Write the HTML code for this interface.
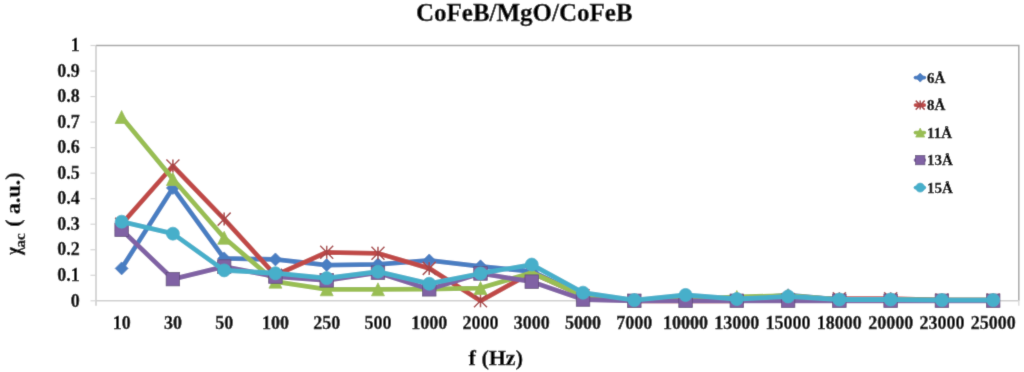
<!DOCTYPE html>
<html><head><meta charset="utf-8"><style>
html,body{margin:0;padding:0;background:#fff;width:1024px;height:372px;overflow:hidden}
svg{display:block}

text{font-family:"Liberation Serif",serif;font-weight:bold;fill:#000;stroke:#000;stroke-width:0.35px}
</style></head><body><div id="w">
<svg width="1024" height="372" viewBox="0 0 1024 372"><defs><filter id="bl" x="0" y="0" width="1024" height="372" filterUnits="userSpaceOnUse"><feConvolveMatrix order="3" kernelMatrix="0.01134 0.08382 0.01134 0.08382 0.61935 0.08382 0.01134 0.08382 0.01134" edgeMode="duplicate" preserveAlpha="true"/></filter></defs><g filter="url(#bl)"><rect x="0" y="0" width="1024" height="372" fill="#fff"/>
<text x="524.3" y="20.6" font-size="25" text-anchor="middle">CoFeB/MgO/CoFeB</text>
<path d="M96.00,45.5 H1018.80 V300.80" stroke="#a8a8a8" stroke-width="1.5" fill="none"/>
<path d="M96.00,45.5 V305.80" stroke="#cacaca" stroke-width="1.5" fill="none"/>
<path d="M96.00,300.80 H1018.80" stroke="#d0d0d0" stroke-width="1.5" fill="none"/>
<path d="M1018.80,300.80 V305.80" stroke="#dcdcdc" stroke-width="1.5" fill="none"/>
<path d="M90.5,300.80 H96.00" stroke="#d6d6d6" stroke-width="1.2"/>
<text x="79.8" y="306.50" font-size="18" text-anchor="end">0</text>
<path d="M90.5,275.27 H96.00" stroke="#d6d6d6" stroke-width="1.2"/>
<text x="79.8" y="280.97" font-size="18" text-anchor="end">0.1</text>
<path d="M90.5,249.74 H96.00" stroke="#d6d6d6" stroke-width="1.2"/>
<text x="79.8" y="255.44" font-size="18" text-anchor="end">0.2</text>
<path d="M90.5,224.21 H96.00" stroke="#d6d6d6" stroke-width="1.2"/>
<text x="79.8" y="229.91" font-size="18" text-anchor="end">0.3</text>
<path d="M90.5,198.68 H96.00" stroke="#d6d6d6" stroke-width="1.2"/>
<text x="79.8" y="204.38" font-size="18" text-anchor="end">0.4</text>
<path d="M90.5,173.15 H96.00" stroke="#d6d6d6" stroke-width="1.2"/>
<text x="79.8" y="178.85" font-size="18" text-anchor="end">0.5</text>
<path d="M90.5,147.62 H96.00" stroke="#d6d6d6" stroke-width="1.2"/>
<text x="79.8" y="153.32" font-size="18" text-anchor="end">0.6</text>
<path d="M90.5,122.09 H96.00" stroke="#d6d6d6" stroke-width="1.2"/>
<text x="79.8" y="127.79" font-size="18" text-anchor="end">0.7</text>
<path d="M90.5,96.56 H96.00" stroke="#d6d6d6" stroke-width="1.2"/>
<text x="79.8" y="102.26" font-size="18" text-anchor="end">0.8</text>
<path d="M90.5,71.03 H96.00" stroke="#d6d6d6" stroke-width="1.2"/>
<text x="79.8" y="76.73" font-size="18" text-anchor="end">0.9</text>
<path d="M90.5,45.50 H96.00" stroke="#d6d6d6" stroke-width="1.2"/>
<text x="79.8" y="51.20" font-size="18" text-anchor="end">1</text>
<text x="121.63" y="328.6" font-size="18" text-anchor="middle">10</text>
<text x="172.90" y="328.6" font-size="18" text-anchor="middle">30</text>
<text x="224.17" y="328.6" font-size="18" text-anchor="middle">50</text>
<text x="275.43" y="328.6" font-size="18" text-anchor="middle">100</text>
<text x="326.70" y="328.6" font-size="18" text-anchor="middle">250</text>
<text x="377.97" y="328.6" font-size="18" text-anchor="middle">500</text>
<text x="429.23" y="328.6" font-size="18" text-anchor="middle">1000</text>
<text x="480.50" y="328.6" font-size="18" text-anchor="middle">2000</text>
<text x="531.77" y="328.6" font-size="18" text-anchor="middle">3000</text>
<text x="583.03" y="328.6" font-size="18" text-anchor="middle">5000</text>
<text x="634.30" y="328.6" font-size="18" text-anchor="middle">7000</text>
<text x="685.57" y="328.6" font-size="18" text-anchor="middle">10000</text>
<text x="736.83" y="328.6" font-size="18" text-anchor="middle">13000</text>
<text x="788.10" y="328.6" font-size="18" text-anchor="middle">15000</text>
<text x="839.37" y="328.6" font-size="18" text-anchor="middle">18000</text>
<text x="890.63" y="328.6" font-size="18" text-anchor="middle">20000</text>
<text x="941.90" y="328.6" font-size="18" text-anchor="middle">23000</text>
<text x="993.17" y="328.6" font-size="18" text-anchor="middle">25000</text>
<text x="495.8" y="364.9" font-size="22" text-anchor="middle">f (Hz)</text>
<g transform="translate(20.2,256) rotate(-90)"><text x="1.2" y="0" font-size="22" transform="scale(0.78,1)">&#967;</text><text x="8.4" y="5" font-size="15">ac</text><text x="29.2" y="0" font-size="22">( a.u.)</text></g>
<polyline points="121.63,268.38 172.90,187.96 224.17,258.42 275.43,259.44 326.70,265.06 377.97,264.29 429.23,260.46 480.50,266.33 531.77,271.44 583.03,295.69 634.30,300.03 685.57,300.03 736.83,299.52 788.10,295.18 839.37,299.52 890.63,299.52 941.90,300.03 993.17,300.03" fill="none" stroke="#4A7EC2" stroke-width="4.8" stroke-linejoin="round" stroke-linecap="round"/>
<path d="M121.63,261.88 L128.13,268.38 L121.63,274.88 L115.13,268.38 Z" fill="#4A7EC2" stroke="#4A7EC2" stroke-width="0.75"/>
<path d="M172.90,181.46 L179.40,187.96 L172.90,194.46 L166.40,187.96 Z" fill="#4A7EC2" stroke="#4A7EC2" stroke-width="0.75"/>
<path d="M224.17,251.92 L230.67,258.42 L224.17,264.92 L217.67,258.42 Z" fill="#4A7EC2" stroke="#4A7EC2" stroke-width="0.75"/>
<path d="M275.43,252.94 L281.93,259.44 L275.43,265.94 L268.93,259.44 Z" fill="#4A7EC2" stroke="#4A7EC2" stroke-width="0.75"/>
<path d="M326.70,258.56 L333.20,265.06 L326.70,271.56 L320.20,265.06 Z" fill="#4A7EC2" stroke="#4A7EC2" stroke-width="0.75"/>
<path d="M377.97,257.79 L384.47,264.29 L377.97,270.79 L371.47,264.29 Z" fill="#4A7EC2" stroke="#4A7EC2" stroke-width="0.75"/>
<path d="M429.23,253.96 L435.73,260.46 L429.23,266.96 L422.73,260.46 Z" fill="#4A7EC2" stroke="#4A7EC2" stroke-width="0.75"/>
<path d="M480.50,259.83 L487.00,266.33 L480.50,272.83 L474.00,266.33 Z" fill="#4A7EC2" stroke="#4A7EC2" stroke-width="0.75"/>
<path d="M531.77,264.94 L538.27,271.44 L531.77,277.94 L525.27,271.44 Z" fill="#4A7EC2" stroke="#4A7EC2" stroke-width="0.75"/>
<path d="M583.03,289.19 L589.53,295.69 L583.03,302.19 L576.53,295.69 Z" fill="#4A7EC2" stroke="#4A7EC2" stroke-width="0.75"/>
<path d="M634.30,293.53 L640.80,300.03 L634.30,306.53 L627.80,300.03 Z" fill="#4A7EC2" stroke="#4A7EC2" stroke-width="0.75"/>
<path d="M685.57,293.53 L692.07,300.03 L685.57,306.53 L679.07,300.03 Z" fill="#4A7EC2" stroke="#4A7EC2" stroke-width="0.75"/>
<path d="M736.83,293.02 L743.33,299.52 L736.83,306.02 L730.33,299.52 Z" fill="#4A7EC2" stroke="#4A7EC2" stroke-width="0.75"/>
<path d="M788.10,288.68 L794.60,295.18 L788.10,301.68 L781.60,295.18 Z" fill="#4A7EC2" stroke="#4A7EC2" stroke-width="0.75"/>
<path d="M839.37,293.02 L845.87,299.52 L839.37,306.02 L832.87,299.52 Z" fill="#4A7EC2" stroke="#4A7EC2" stroke-width="0.75"/>
<path d="M890.63,293.02 L897.13,299.52 L890.63,306.02 L884.13,299.52 Z" fill="#4A7EC2" stroke="#4A7EC2" stroke-width="0.75"/>
<path d="M941.90,293.53 L948.40,300.03 L941.90,306.53 L935.40,300.03 Z" fill="#4A7EC2" stroke="#4A7EC2" stroke-width="0.75"/>
<path d="M993.17,293.53 L999.67,300.03 L993.17,306.53 L986.67,300.03 Z" fill="#4A7EC2" stroke="#4A7EC2" stroke-width="0.75"/>
<polyline points="121.63,224.21 172.90,166.00 224.17,219.10 275.43,275.27 326.70,252.29 377.97,253.31 429.23,268.38 480.50,300.80 531.77,272.72 583.03,295.69 634.30,300.80 685.57,300.80 736.83,300.80 788.10,299.52 839.37,298.76 890.63,298.76 941.90,300.03 993.17,300.03" fill="none" stroke="#C04A47" stroke-width="4.8" stroke-linejoin="round" stroke-linecap="round"/>
<path d="M115.13,217.71 L128.13,230.71 M128.13,217.71 L115.13,230.71 M121.63,217.71 L121.63,230.71" stroke="#A84446" stroke-width="1.5" fill="none"/>
<path d="M166.40,159.50 L179.40,172.50 M179.40,159.50 L166.40,172.50 M172.90,159.50 L172.90,172.50" stroke="#A84446" stroke-width="1.5" fill="none"/>
<path d="M217.67,212.60 L230.67,225.60 M230.67,212.60 L217.67,225.60 M224.17,212.60 L224.17,225.60" stroke="#A84446" stroke-width="1.5" fill="none"/>
<path d="M268.93,268.77 L281.93,281.77 M281.93,268.77 L268.93,281.77 M275.43,268.77 L275.43,281.77" stroke="#A84446" stroke-width="1.5" fill="none"/>
<path d="M320.20,245.79 L333.20,258.79 M333.20,245.79 L320.20,258.79 M326.70,245.79 L326.70,258.79" stroke="#A84446" stroke-width="1.5" fill="none"/>
<path d="M371.47,246.81 L384.47,259.81 M384.47,246.81 L371.47,259.81 M377.97,246.81 L377.97,259.81" stroke="#A84446" stroke-width="1.5" fill="none"/>
<path d="M422.73,261.88 L435.73,274.88 M435.73,261.88 L422.73,274.88 M429.23,261.88 L429.23,274.88" stroke="#A84446" stroke-width="1.5" fill="none"/>
<path d="M474.00,294.30 L487.00,307.30 M487.00,294.30 L474.00,307.30 M480.50,294.30 L480.50,307.30" stroke="#A84446" stroke-width="1.5" fill="none"/>
<path d="M525.27,266.22 L538.27,279.22 M538.27,266.22 L525.27,279.22 M531.77,266.22 L531.77,279.22" stroke="#A84446" stroke-width="1.5" fill="none"/>
<path d="M576.53,289.19 L589.53,302.19 M589.53,289.19 L576.53,302.19 M583.03,289.19 L583.03,302.19" stroke="#A84446" stroke-width="1.5" fill="none"/>
<path d="M627.80,294.30 L640.80,307.30 M640.80,294.30 L627.80,307.30 M634.30,294.30 L634.30,307.30" stroke="#A84446" stroke-width="1.5" fill="none"/>
<path d="M679.07,294.30 L692.07,307.30 M692.07,294.30 L679.07,307.30 M685.57,294.30 L685.57,307.30" stroke="#A84446" stroke-width="1.5" fill="none"/>
<path d="M730.33,294.30 L743.33,307.30 M743.33,294.30 L730.33,307.30 M736.83,294.30 L736.83,307.30" stroke="#A84446" stroke-width="1.5" fill="none"/>
<path d="M781.60,293.02 L794.60,306.02 M794.60,293.02 L781.60,306.02 M788.10,293.02 L788.10,306.02" stroke="#A84446" stroke-width="1.5" fill="none"/>
<path d="M832.87,292.26 L845.87,305.26 M845.87,292.26 L832.87,305.26 M839.37,292.26 L839.37,305.26" stroke="#A84446" stroke-width="1.5" fill="none"/>
<path d="M884.13,292.26 L897.13,305.26 M897.13,292.26 L884.13,305.26 M890.63,292.26 L890.63,305.26" stroke="#A84446" stroke-width="1.5" fill="none"/>
<path d="M935.40,293.53 L948.40,306.53 M948.40,293.53 L935.40,306.53 M941.90,293.53 L941.90,306.53" stroke="#A84446" stroke-width="1.5" fill="none"/>
<path d="M986.67,293.53 L999.67,306.53 M999.67,293.53 L986.67,306.53 M993.17,293.53 L993.17,306.53" stroke="#A84446" stroke-width="1.5" fill="none"/>
<polyline points="121.63,116.98 172.90,179.02 224.17,237.74 275.43,281.65 326.70,289.31 377.97,289.31 429.23,289.06 480.50,288.04 531.77,272.72 583.03,295.69 634.30,300.80 685.57,299.52 736.83,296.97 788.10,295.69 839.37,299.52 890.63,299.52 941.90,300.03 993.17,300.03" fill="none" stroke="#99BE52" stroke-width="4.8" stroke-linejoin="round" stroke-linecap="round"/>
<path d="M121.63,110.48 L128.13,123.48 L115.13,123.48 Z" fill="#99BE52" stroke="#99BE52" stroke-width="0.75"/>
<path d="M172.90,172.52 L179.40,185.52 L166.40,185.52 Z" fill="#99BE52" stroke="#99BE52" stroke-width="0.75"/>
<path d="M224.17,231.24 L230.67,244.24 L217.67,244.24 Z" fill="#99BE52" stroke="#99BE52" stroke-width="0.75"/>
<path d="M275.43,275.15 L281.93,288.15 L268.93,288.15 Z" fill="#99BE52" stroke="#99BE52" stroke-width="0.75"/>
<path d="M326.70,282.81 L333.20,295.81 L320.20,295.81 Z" fill="#99BE52" stroke="#99BE52" stroke-width="0.75"/>
<path d="M377.97,282.81 L384.47,295.81 L371.47,295.81 Z" fill="#99BE52" stroke="#99BE52" stroke-width="0.75"/>
<path d="M429.23,282.56 L435.73,295.56 L422.73,295.56 Z" fill="#99BE52" stroke="#99BE52" stroke-width="0.75"/>
<path d="M480.50,281.54 L487.00,294.54 L474.00,294.54 Z" fill="#99BE52" stroke="#99BE52" stroke-width="0.75"/>
<path d="M531.77,266.22 L538.27,279.22 L525.27,279.22 Z" fill="#99BE52" stroke="#99BE52" stroke-width="0.75"/>
<path d="M583.03,289.19 L589.53,302.19 L576.53,302.19 Z" fill="#99BE52" stroke="#99BE52" stroke-width="0.75"/>
<path d="M634.30,294.30 L640.80,307.30 L627.80,307.30 Z" fill="#99BE52" stroke="#99BE52" stroke-width="0.75"/>
<path d="M685.57,293.02 L692.07,306.02 L679.07,306.02 Z" fill="#99BE52" stroke="#99BE52" stroke-width="0.75"/>
<path d="M736.83,290.47 L743.33,303.47 L730.33,303.47 Z" fill="#99BE52" stroke="#99BE52" stroke-width="0.75"/>
<path d="M788.10,289.19 L794.60,302.19 L781.60,302.19 Z" fill="#99BE52" stroke="#99BE52" stroke-width="0.75"/>
<path d="M839.37,293.02 L845.87,306.02 L832.87,306.02 Z" fill="#99BE52" stroke="#99BE52" stroke-width="0.75"/>
<path d="M890.63,293.02 L897.13,306.02 L884.13,306.02 Z" fill="#99BE52" stroke="#99BE52" stroke-width="0.75"/>
<path d="M941.90,293.53 L948.40,306.53 L935.40,306.53 Z" fill="#99BE52" stroke="#99BE52" stroke-width="0.75"/>
<path d="M993.17,293.53 L999.67,306.53 L986.67,306.53 Z" fill="#99BE52" stroke="#99BE52" stroke-width="0.75"/>
<polyline points="121.63,229.83 172.90,279.10 224.17,266.59 275.43,276.55 326.70,280.38 377.97,272.72 429.23,289.31 480.50,273.48 531.77,281.65 583.03,299.52 634.30,300.80 685.57,300.80 736.83,300.80 788.10,300.80 839.37,300.80 890.63,300.80 941.90,300.80 993.17,300.80" fill="none" stroke="#8062A4" stroke-width="4.8" stroke-linejoin="round" stroke-linecap="round"/>
<rect x="114.87" y="223.07" width="13.52" height="13.52" fill="#8062A4" stroke="#5f4b7a" stroke-width="0.75"/>
<rect x="166.14" y="272.34" width="13.52" height="13.52" fill="#8062A4" stroke="#5f4b7a" stroke-width="0.75"/>
<rect x="217.41" y="259.83" width="13.52" height="13.52" fill="#8062A4" stroke="#5f4b7a" stroke-width="0.75"/>
<rect x="268.67" y="269.79" width="13.52" height="13.52" fill="#8062A4" stroke="#5f4b7a" stroke-width="0.75"/>
<rect x="319.94" y="273.62" width="13.52" height="13.52" fill="#8062A4" stroke="#5f4b7a" stroke-width="0.75"/>
<rect x="371.21" y="265.96" width="13.52" height="13.52" fill="#8062A4" stroke="#5f4b7a" stroke-width="0.75"/>
<rect x="422.47" y="282.55" width="13.52" height="13.52" fill="#8062A4" stroke="#5f4b7a" stroke-width="0.75"/>
<rect x="473.74" y="266.72" width="13.52" height="13.52" fill="#8062A4" stroke="#5f4b7a" stroke-width="0.75"/>
<rect x="525.01" y="274.89" width="13.52" height="13.52" fill="#8062A4" stroke="#5f4b7a" stroke-width="0.75"/>
<rect x="576.27" y="292.76" width="13.52" height="13.52" fill="#8062A4" stroke="#5f4b7a" stroke-width="0.75"/>
<rect x="627.54" y="294.04" width="13.52" height="13.52" fill="#8062A4" stroke="#5f4b7a" stroke-width="0.75"/>
<rect x="678.81" y="294.04" width="13.52" height="13.52" fill="#8062A4" stroke="#5f4b7a" stroke-width="0.75"/>
<rect x="730.07" y="294.04" width="13.52" height="13.52" fill="#8062A4" stroke="#5f4b7a" stroke-width="0.75"/>
<rect x="781.34" y="294.04" width="13.52" height="13.52" fill="#8062A4" stroke="#5f4b7a" stroke-width="0.75"/>
<rect x="832.61" y="294.04" width="13.52" height="13.52" fill="#8062A4" stroke="#5f4b7a" stroke-width="0.75"/>
<rect x="883.87" y="294.04" width="13.52" height="13.52" fill="#8062A4" stroke="#5f4b7a" stroke-width="0.75"/>
<rect x="935.14" y="294.04" width="13.52" height="13.52" fill="#8062A4" stroke="#5f4b7a" stroke-width="0.75"/>
<rect x="986.41" y="294.04" width="13.52" height="13.52" fill="#8062A4" stroke="#5f4b7a" stroke-width="0.75"/>
<polyline points="121.63,221.66 172.90,233.66 224.17,270.42 275.43,273.23 326.70,278.08 377.97,271.70 429.23,283.69 480.50,273.48 531.77,264.55 583.03,292.63 634.30,300.03 685.57,294.93 736.83,299.01 788.10,296.46 839.37,299.52 890.63,299.52 941.90,300.03 993.17,300.03" fill="none" stroke="#46AFCA" stroke-width="4.8" stroke-linejoin="round" stroke-linecap="round"/>
<circle cx="121.63" cy="221.66" r="6.50" fill="#46AFCA" stroke="#46AFCA" stroke-width="0.75"/>
<circle cx="172.90" cy="233.66" r="6.50" fill="#46AFCA" stroke="#46AFCA" stroke-width="0.75"/>
<circle cx="224.17" cy="270.42" r="6.50" fill="#46AFCA" stroke="#46AFCA" stroke-width="0.75"/>
<circle cx="275.43" cy="273.23" r="6.50" fill="#46AFCA" stroke="#46AFCA" stroke-width="0.75"/>
<circle cx="326.70" cy="278.08" r="6.50" fill="#46AFCA" stroke="#46AFCA" stroke-width="0.75"/>
<circle cx="377.97" cy="271.70" r="6.50" fill="#46AFCA" stroke="#46AFCA" stroke-width="0.75"/>
<circle cx="429.23" cy="283.69" r="6.50" fill="#46AFCA" stroke="#46AFCA" stroke-width="0.75"/>
<circle cx="480.50" cy="273.48" r="6.50" fill="#46AFCA" stroke="#46AFCA" stroke-width="0.75"/>
<circle cx="531.77" cy="264.55" r="6.50" fill="#46AFCA" stroke="#46AFCA" stroke-width="0.75"/>
<circle cx="583.03" cy="292.63" r="6.50" fill="#46AFCA" stroke="#46AFCA" stroke-width="0.75"/>
<circle cx="634.30" cy="300.03" r="6.50" fill="#46AFCA" stroke="#46AFCA" stroke-width="0.75"/>
<circle cx="685.57" cy="294.93" r="6.50" fill="#46AFCA" stroke="#46AFCA" stroke-width="0.75"/>
<circle cx="736.83" cy="299.01" r="6.50" fill="#46AFCA" stroke="#46AFCA" stroke-width="0.75"/>
<circle cx="788.10" cy="296.46" r="6.50" fill="#46AFCA" stroke="#46AFCA" stroke-width="0.75"/>
<circle cx="839.37" cy="299.52" r="6.50" fill="#46AFCA" stroke="#46AFCA" stroke-width="0.75"/>
<circle cx="890.63" cy="299.52" r="6.50" fill="#46AFCA" stroke="#46AFCA" stroke-width="0.75"/>
<circle cx="941.90" cy="300.03" r="6.50" fill="#46AFCA" stroke="#46AFCA" stroke-width="0.75"/>
<circle cx="993.17" cy="300.03" r="6.50" fill="#46AFCA" stroke="#46AFCA" stroke-width="0.75"/>
<path d="M915.5,77.60 H924.3" stroke="#4A7EC2" stroke-width="3.8" stroke-linecap="round"/>
<path d="M920.20,73.10 L924.70,77.60 L920.20,82.10 L915.70,77.60 Z" fill="#4A7EC2" stroke="#4A7EC2" stroke-width="0.75"/>
<text x="927" y="82.80" font-size="15">6Å</text>
<path d="M915.5,105.10 H924.3" stroke="#C04A47" stroke-width="3.8" stroke-linecap="round"/>
<path d="M915.70,100.60 L924.70,109.60 M924.70,100.60 L915.70,109.60 M920.20,100.60 L920.20,109.60" stroke="#A84446" stroke-width="1.5" fill="none"/>
<text x="927" y="110.30" font-size="15">8Å</text>
<path d="M915.5,132.60 H924.3" stroke="#99BE52" stroke-width="3.8" stroke-linecap="round"/>
<path d="M920.20,128.10 L924.70,137.10 L915.70,137.10 Z" fill="#99BE52" stroke="#99BE52" stroke-width="0.75"/>
<text x="927" y="137.80" font-size="15">11Å</text>
<path d="M915.5,160.10 H924.3" stroke="#8062A4" stroke-width="3.8" stroke-linecap="round"/>
<rect x="915.52" y="155.42" width="9.36" height="9.36" fill="#8062A4" stroke="#5f4b7a" stroke-width="0.75"/>
<text x="927" y="165.30" font-size="15">13Å</text>
<path d="M915.5,187.60 H924.3" stroke="#46AFCA" stroke-width="3.8" stroke-linecap="round"/>
<circle cx="920.20" cy="187.60" r="4.50" fill="#46AFCA" stroke="#46AFCA" stroke-width="0.75"/>
<text x="927" y="192.80" font-size="15">15Å</text>
</g></svg></div></body></html>
